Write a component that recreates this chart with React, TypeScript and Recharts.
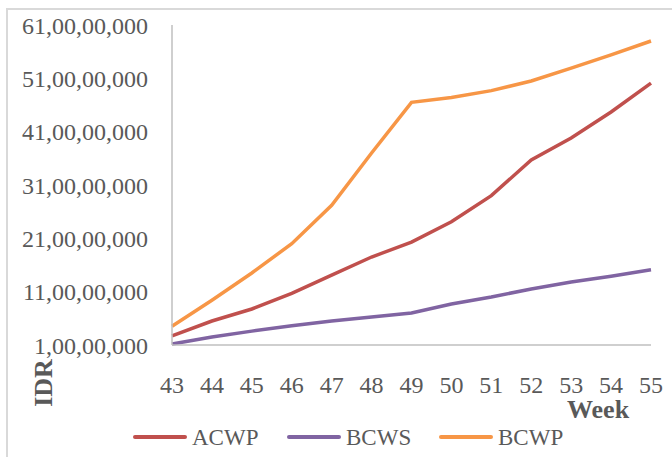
import React from "react";
import { LineChart, Line, XAxis, YAxis } from "recharts";

const weeks = [43, 44, 45, 46, 47, 48, 49, 50, 51, 52, 53, 54, 55];

const acwp = [
  27000000, 55000000, 77500000, 107000000, 141000000, 175000000, 203000000,
  241000000, 290000000, 357000000, 398000000, 447000000, 501000000,
];
const bcws = [
  12000000, 25000000, 36000000, 46000000, 55000000, 62500000, 70000000,
  87000000, 100000000, 115000000, 128000000, 139000000, 151000000,
];
const bcwp = [
  45000000, 94000000, 145000000, 200000000, 272000000, 370000000, 465000000,
  474000000, 487000000, 505000000, 529000000, 554000000, 580000000,
];

const yTicks = [
  10000000, 110000000, 210000000, 310000000, 410000000, 510000000, 610000000,
];

const series = [
  { key: "acwp", name: "ACWP", color: "#C0504D" },
  { key: "bcws", name: "BCWS", color: "#8064A2" },
  { key: "bcwp", name: "BCWP", color: "#F79646" },
];

// legend left positions (line start) for each entry
const legendX = [133, 287, 439];

const FONT = '"Liberation Serif", "Times New Roman", serif';
const TEXT = "#595959";

// Indian digit grouping: 61,00,00,000
function fmtIN(v: number) {
  const s = String(Math.round(v));
  if (s.length <= 3) return s;
  const last3 = s.slice(-3);
  const rest = s.slice(0, -3).replace(/\B(?=(\d{2})+(?!\d))/g, ",");
  return `${rest},${last3}`;
}

export default function App() {
  const data = weeks.map((w, i) => ({
    week: w,
    acwp: acwp[i],
    bcws: bcws[i],
    bcwp: bcwp[i],
  }));

  return (
    <div
      style={{
        position: "absolute",
        left: 0,
        top: 0,
        width: 672,
        height: 457,
        overflow: "hidden",
        background: "white",
        fontFamily: FONT,
      }}
    >
      {/* outer frame (only left/top visible) */}
      <div
        style={{
          position: "absolute",
          left: 6,
          top: 8,
          width: 720,
          height: 520,
          border: "2px solid #D9D9D9",
        }}
      />

      <div style={{ position: "absolute", left: 0, top: 0 }}>
        <LineChart
          width={672}
          height={457}
          data={data}
          margin={{ top: 25, right: 21, left: 0, bottom: 52 }}
        >
          <XAxis
            dataKey="week"
            height={60}
            tickLine={false}
            tickSize={0}
            tickMargin={31}
            axisLine={{ stroke: "#BFBFBF", strokeWidth: 1.5 }}
            tick={{ fill: TEXT, fontSize: 24, fontFamily: FONT }}
            interval={0}
          />
          <YAxis
            width={172}
            domain={[10000000, 610000000]}
            ticks={yTicks}
            tickFormatter={fmtIN}
            tickLine={false}
            tickSize={0}
            tickMargin={24}
            axisLine={{ stroke: "#BFBFBF", strokeWidth: 1.5 }}
            tick={{ fill: TEXT, fontSize: 24, fontFamily: FONT }}
            interval={0}
          />
          {series.map((s) => (
            <Line
              key={s.key}
              type="linear"
              dataKey={s.key}
              name={s.name}
              stroke={s.color}
              strokeWidth={3.5}
              dot={false}
              isAnimationActive={false}
            />
          ))}
        </LineChart>
      </div>

      {/* axis titles */}
      <div
        style={{
          position: "absolute",
          left: 44,
          top: 383,
          transform: "translate(-50%, -50%) rotate(-90deg)",
          fontSize: 26,
          fontWeight: 700,
          color: TEXT,
          whiteSpace: "nowrap",
          lineHeight: 1,
        }}
      >
        IDR
      </div>
      <div
        style={{
          position: "absolute",
          left: 567,
          top: 397,
          fontSize: 26,
          fontWeight: 700,
          color: TEXT,
          whiteSpace: "nowrap",
          lineHeight: 1,
        }}
      >
        Week
      </div>

      {/* legend */}
      {series.map((s, i) => (
        <div
          key={s.key}
          style={{
            position: "absolute",
            left: legendX[i],
            top: 424,
            height: 26,
            display: "flex",
            alignItems: "center",
            whiteSpace: "nowrap",
          }}
        >
          <div
            style={{
              width: 54,
              height: 4,
              borderRadius: 2,
              background: s.color,
              marginRight: 5,
            }}
          />
          <span style={{ fontSize: 23, color: TEXT, lineHeight: 1 }}>
            {s.name}
          </span>
        </div>
      ))}
    </div>
  );
}
